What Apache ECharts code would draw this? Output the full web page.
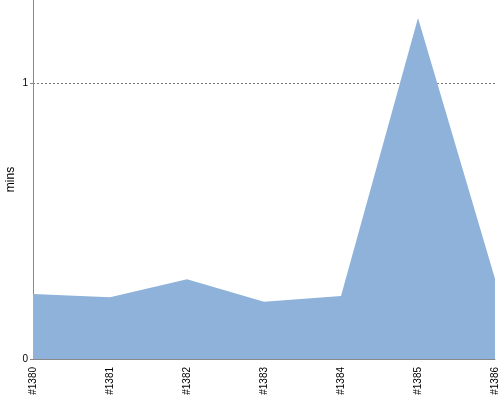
<!DOCTYPE html>
<html>
<head>
<meta charset="utf-8">
<script src="https://cdn.jsdelivr.net/npm/echarts@6/dist/echarts.min.js"></script>
<style>
  html, body { margin: 0; padding: 0; background: #fff; }
  #chart { width: 500px; height: 400px; }
</style>
</head>
<body>
<div id="chart"></div>
<script>
const builds = ["#1380", "#1381", "#1382", "#1383", "#1384", "#1385", "#1386"];
const durations = [0.235, 0.224, 0.289, 0.207, 0.228, 1.235, 0.291];
const yTicks = [0, 1];

const chart = echarts.init(document.getElementById("chart"));
chart.setOption({
  animation: false,
  textStyle: { fontFamily: "Liberation Sans" },
  grid: { left: 33, right: 5, top: 0, bottom: 41, containLabel: false, outerBoundsMode: "none" },
  xAxis: {
    type: "category",
    data: builds,
    boundaryGap: false,
    axisLine: { lineStyle: { color: "#888", width: 1 } },
    axisTick: { show: false },
    axisLabel: { rotate: 90, color: "#000", fontSize: 10, margin: 8, interval: 0 },
    splitLine: { show: false },
  },
  yAxis: {
    type: "value",
    min: 0,
    max: 1.3,
    interval: 1,
    name: "mins",
    nameLocation: "middle",
    nameGap: 16,
    nameMoveOverlap: false,
    nameTextStyle: { color: "#000", fontSize: 12 },
    axisLine: { show: true, lineStyle: { color: "#888", width: 1 } },
    axisTick: { show: true, length: 3, lineStyle: { color: "#888" } },
    axisLabel: {
      color: "#000",
      fontSize: 10,
      margin: 5,
      showMaxLabel: false,
      formatter: (v) => (yTicks.includes(v) ? String(v) : ""),
    },
    splitLine: {
      show: true,
      showMinLine: false,
      showMaxLine: false,
      lineStyle: { color: "#777", type: [2, 2], width: 1 },
    },
  },
  series: [
    {
      type: "line",
      data: durations,
      showSymbol: false,
      lineStyle: { width: 0 },
      areaStyle: { color: "#8fb2da", opacity: 1 },
      z: 1,
    },
  ],
});
</script>
</body>
</html>
